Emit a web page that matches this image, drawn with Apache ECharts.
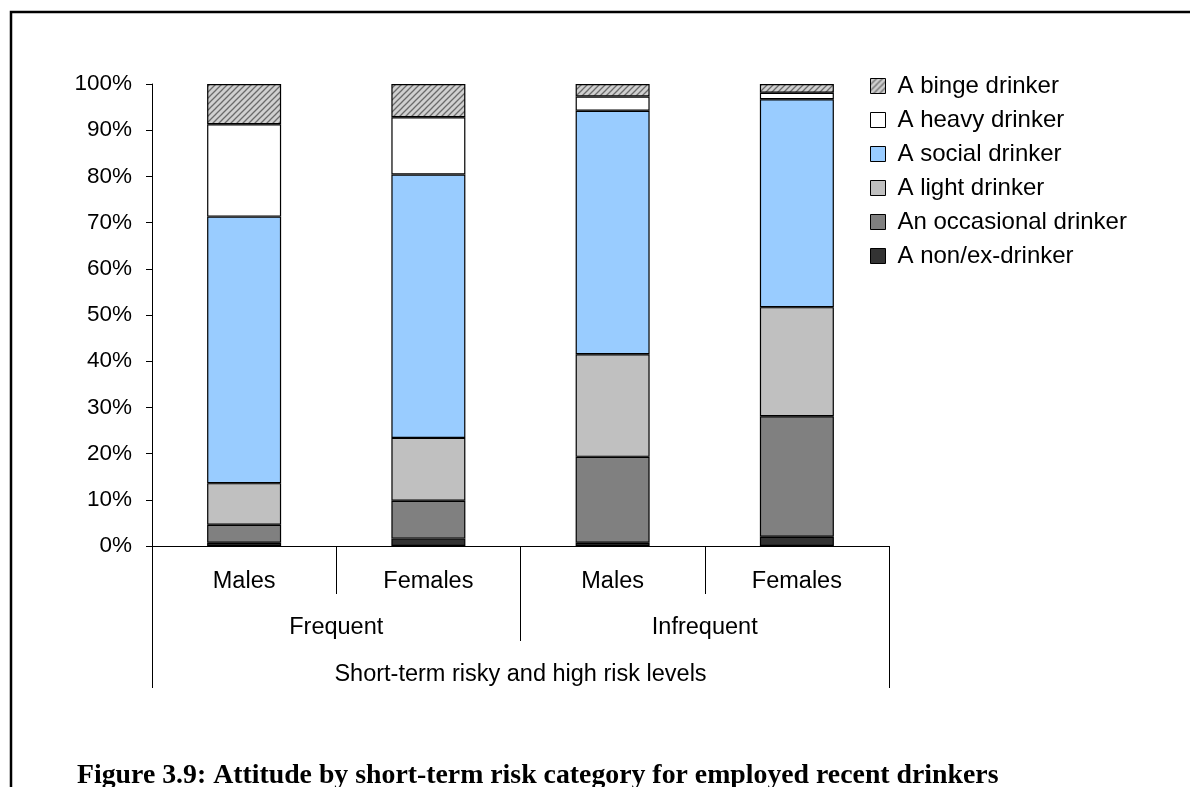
<!DOCTYPE html>
<html>
<head>
<meta charset="utf-8">
<script src="https://cdn.jsdelivr.net/npm/echarts@6/dist/echarts.min.js"></script>
<style>html,body{margin:0;padding:0;background:#fff;}#c{width:1190px;height:787px;}</style>
</head>
<body>
<div id="c"></div>
<script>
var subCategories = ['Males', 'Females', 'Males', 'Females'];
var groupCategories = ['Frequent', 'Infrequent'];
var topCategory = ['Short-term risky and high risk levels'];
var yTicks = [0, 0.1, 0.2, 0.3, 0.4, 0.5, 0.6, 0.7, 0.8, 0.9, 1];

var nonExDrinker   = [0.7, 1.6, 0.7, 2.0];
var occasional     = [3.9, 8.2, 18.6, 26.1];
var lightDrinker   = [9.0, 13.6, 22.2, 23.6];
var socialDrinker  = [57.7, 57.0, 52.7, 45.0];
var heavyDrinker   = [20.0, 12.4, 3.1, 1.4];
var bingeDrinker   = [8.7, 7.2, 2.7, 1.9];

var seriesNames = ['A non/ex-drinker', 'An occasional drinker', 'A light drinker', 'A social drinker', 'A heavy drinker', 'A binge drinker'];
var seriesValues = [nonExDrinker, occasional, lightDrinker, socialDrinker, heavyDrinker, bingeDrinker];

// hatch pattern
var pc = document.createElement('canvas');
pc.width = 6; pc.height = 6;
var pctx = pc.getContext('2d');
pctx.fillStyle = '#d0d0d0';
pctx.fillRect(0, 0, 6, 6);
pctx.strokeStyle = '#6a6a6a';
pctx.lineWidth = 1.3;
pctx.beginPath();
pctx.moveTo(-1, 7); pctx.lineTo(7, -1);
pctx.moveTo(-4, 4); pctx.lineTo(4, -4);
pctx.moveTo(2, 10); pctx.lineTo(10, 2);
pctx.stroke();

var colors = ['#333333', '#808080', '#c0c0c0', '#99ccff', '#ffffff', {image: pc, repeat: 'repeat'}];

var font = 'Liberation Sans, Arial, sans-serif';
var chart = echarts.init(document.getElementById('c'), null, {renderer: 'canvas'});

var series = seriesNames.map(function (n, i) {
  return {
    name: n,
    type: 'bar',
    stack: 'total',
    barWidth: 74,
    xAxisIndex: 0,
    data: seriesValues[i].map(function (v) { return v / 100; }),
    itemStyle: {color: colors[i], borderColor: '#000', borderWidth: 1.2},
    emphasis: {disabled: true}
  };
});

chart.setOption({
  animation: false,
  backgroundColor: '#fff',
  grid: {left: 152, right: 301, top: 84, bottom: 241, containLabel: false},
  legend: {
    orient: 'vertical',
    left: 865,
    top: 69,
    itemWidth: 15,
    itemHeight: 15,
    itemGap: 10,
    icon: 'rect',
    data: seriesNames.slice().reverse(),
    textStyle: {fontFamily: font, fontSize: 24, color: '#000', lineHeight: 24, padding: [0, 0, 0, 7]},
    itemStyle: {borderColor: '#000', borderWidth: 1}
  },
  xAxis: [
    {
      type: 'category', data: subCategories, position: 'bottom',
      axisLine: {show: true, lineStyle: {color: '#000', width: 1}},
      axisTick: {show: true, length: 48, lineStyle: {color: '#000'}},
      axisLabel: {fontFamily: font, fontSize: 23.5, color: '#000', margin: 24}
    },
    {
      type: 'category', data: groupCategories, position: 'bottom', offset: 48,
      axisLine: {show: false},
      axisTick: {show: true, length: 47, lineStyle: {color: '#000'}},
      axisLabel: {fontFamily: font, fontSize: 23.5, color: '#000', margin: 22}
    },
    {
      type: 'category', data: topCategory, position: 'bottom', offset: 95,
      axisLine: {show: false},
      axisTick: {show: true, length: 47, lineStyle: {color: '#000'}},
      axisLabel: {fontFamily: font, fontSize: 23.5, color: '#000', margin: 22}
    }
  ],
  yAxis: {
    type: 'value', min: 0, max: 1, interval: 0.1,
    axisLine: {show: true, lineStyle: {color: '#000', width: 1}},
    axisTick: {show: true, length: 6, lineStyle: {color: '#000'}},
    splitLine: {show: false},
    axisLabel: {
      fontFamily: font, fontSize: 22.5, color: '#000', margin: 20,
      customValues: yTicks,
      formatter: function (v) { return Math.round(v * 100) + '%'; }
    }
  },
  series: series,
  graphic: [
    {type: 'polyline', shape: {points: [[11, 800], [11, 12], [1200, 12]]}, style: {stroke: '#000', lineWidth: 2.5, fill: null}},
    {type: 'text', x: 77, y: 776, style: {text: 'Figure 3.9: Attitude by short-term risk category for employed recent drinkers', font: 'bold 27.8px "Liberation Serif", "DejaVu Serif", serif', fill: '#000', verticalAlign: 'middle'}}
  ]
});
</script>
</body>
</html>
